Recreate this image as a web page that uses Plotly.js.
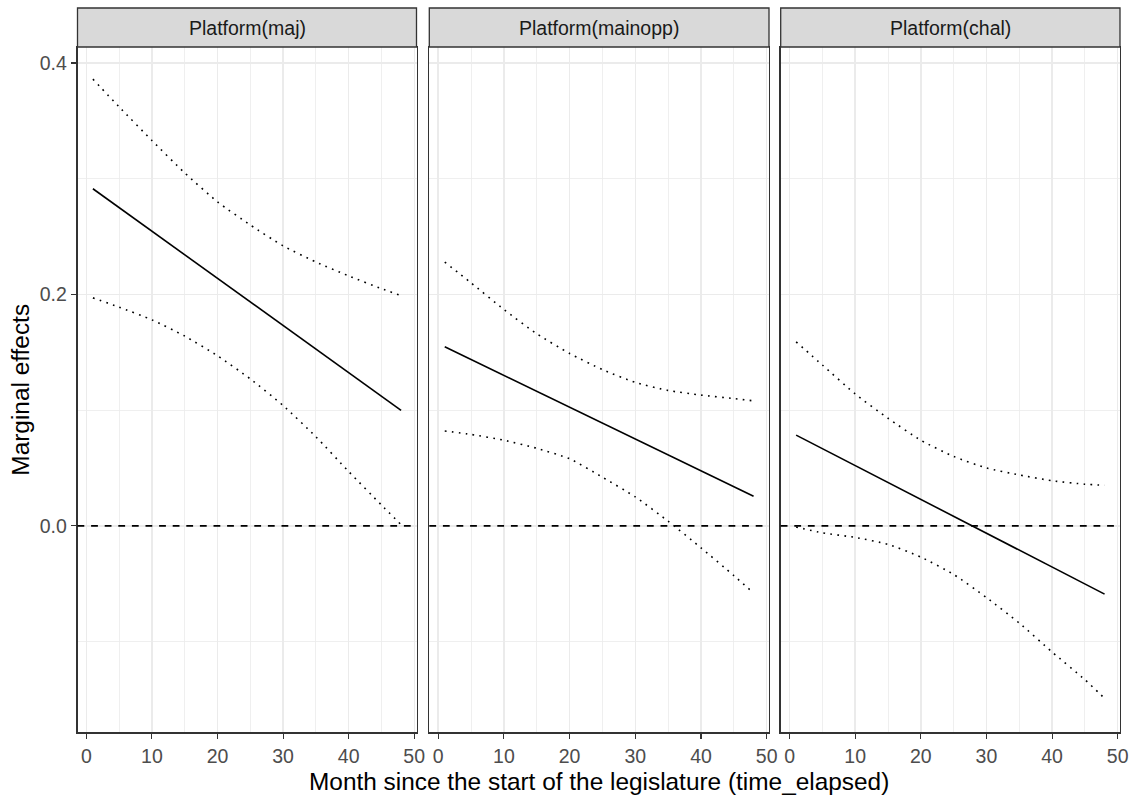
<!DOCTYPE html>
<html>
<head>
<meta charset="utf-8">
<script src="https://cdn.plot.ly/plotly-3.0.1.min.js"></script>
<style>html,body{margin:0;padding:0;background:#fff}#chart{width:1139px;height:799px}</style>
</head>
<body>
<div id="chart"></div>
<script>
// Facet labels
const panels = ["Platform(maj)", "Platform(mainopp)", "Platform(chal)"];
// Month since start of legislature (x values read at these points)
const months = [1, 5, 10, 15, 20, 25, 30, 35, 40, 45, 48];

// Platform(maj)
const majEst   = [0.2913, 0.2750, 0.2546, 0.2343, 0.2139, 0.1935, 0.1732, 0.1528, 0.1324, 0.1121, 0.0998];
const majUpper = [0.386, 0.362, 0.333, 0.305, 0.280, 0.260, 0.242, 0.228, 0.216, 0.205, 0.199];
const majLower = [0.197, 0.189, 0.178, 0.164, 0.147, 0.127, 0.104, 0.077, 0.047, 0.018, 0.001];

// Platform(mainopp)
const oppEst   = [0.1548, 0.1438, 0.1301, 0.1163, 0.1026, 0.0888, 0.0751, 0.0613, 0.0476, 0.0338, 0.0256];
const oppUpper = [0.228, 0.210, 0.187, 0.166, 0.149, 0.135, 0.124, 0.117, 0.113, 0.110, 0.108];
const oppLower = [0.082, 0.079, 0.074, 0.067, 0.058, 0.042, 0.025, 0.004, -0.019, -0.043, -0.058];

// Platform(chal)
const chalEst   = [0.0784, 0.0667, 0.0521, 0.0375, 0.0229, 0.0083, -0.0064, -0.0210, -0.0356, -0.0502, -0.0590];
const chalUpper = [0.159, 0.139, 0.114, 0.093, 0.074, 0.060, 0.050, 0.044, 0.039, 0.036, 0.035];
const chalLower = [-0.001, -0.006, -0.010, -0.016, -0.027, -0.042, -0.062, -0.084, -0.109, -0.133, -0.149];

const FONT = "Liberation Sans, Arial, sans-serif";
const LW = 1.6;

const series = [
  [majEst, majUpper, majLower],
  [oppEst, oppUpper, oppLower],
  [chalEst, chalUpper, chalLower]
];

const traces = [];
series.forEach((s, i) => {
  const xa = i === 0 ? 'x' : 'x' + (i + 1);
  const ya = i === 0 ? 'y' : 'y' + (i + 1);
  traces.push({x: months, y: s[1], xaxis: xa, yaxis: ya, mode: 'lines', type: 'scatter',
    line: {color: '#000', width: LW, dash: '1.7px,5.3px', shape: 'spline', smoothing: 0.6}, hoverinfo: 'skip'});
  traces.push({x: months, y: s[2], xaxis: xa, yaxis: ya, mode: 'lines', type: 'scatter',
    line: {color: '#000', width: LW, dash: '1.7px,5.3px', shape: 'spline', smoothing: 0.6}, hoverinfo: 'skip'});
  traces.push({x: months, y: s[0], xaxis: xa, yaxis: ya, mode: 'lines', type: 'scatter',
    line: {color: '#000', width: LW}, hoverinfo: 'skip'});
});

const W = 1139, H = 799;
const xDomains = [[77.5 / W, 416.5 / W], [429.3 / W, 769 / W], [780.7 / W, 1120 / W]];
const yDomain = [1 - 732.3 / H, 1 - 47 / H];
const stripTop = 1 - 8 / H;

function xAxis(i) {
  return {
    domain: xDomains[i], range: [-1.35, 50.35], anchor: i === 0 ? 'y' : 'y' + (i + 1),
    tick0: 0, dtick: 10, ticks: 'outside', ticklen: 5.5, tickwidth: 1.1, tickcolor: '#333333',
    showgrid: true, gridcolor: '#EBEBEB', gridwidth: 1.4,
    minor: {tick0: 0, dtick: 5, showgrid: true, gridcolor: '#EBEBEB', gridwidth: 0.8, ticks: ''},
    showline: true, mirror: true, linecolor: '#333333', linewidth: 1.3, zeroline: false,
    tickfont: {family: FONT, size: 19.5, color: '#4D4D4D'}, fixedrange: true
  };
}
function yAxis(i) {
  return {
    domain: yDomain, range: [-0.1784, 0.4138], anchor: i === 0 ? 'x' : 'x' + (i + 1),
    tick0: 0, dtick: 0.2, tickformat: '.1f',
    ticks: i === 0 ? 'outside' : '', ticklen: 5.5, tickwidth: 1.1, tickcolor: '#333333',
    showticklabels: i === 0,
    showgrid: true, gridcolor: '#EBEBEB', gridwidth: 1.4,
    minor: {tick0: 0, dtick: 0.1, showgrid: true, gridcolor: '#EBEBEB', gridwidth: 0.8, ticks: ''},
    showline: true, mirror: true, linecolor: '#333333', linewidth: 1.3, zeroline: false,
    tickfont: {family: FONT, size: 19.5, color: '#4D4D4D'}, fixedrange: true
  };
}

const shapes = [];
const annotations = [];
panels.forEach((p, i) => {
  const xr = (i === 0 ? 'x' : 'x' + (i + 1)) + ' domain';
  const yr = i === 0 ? 'y' : 'y' + (i + 1);
  shapes.push({type: 'line', xref: xr, x0: 0, x1: 1, yref: yr, y0: 0, y1: 0,
    line: {color: '#000', width: LW, dash: '6.8px,6.8px'}});
  shapes.push({type: 'rect', xref: xr, x0: 0, x1: 1, yref: 'paper', y0: yDomain[1], y1: stripTop,
    fillcolor: '#D9D9D9', line: {color: '#333333', width: 1.3}});
  annotations.push({text: p, xref: xr, x: 0.5, yref: 'paper', y: (yDomain[1] + stripTop) / 2,
    xanchor: 'center', yanchor: 'middle', showarrow: false,
    font: {family: FONT, size: 19.5, color: '#1A1A1A'}});
});
annotations.push({text: 'Month since the start of the legislature (time_elapsed)',
  xref: 'paper', x: (xDomains[0][0] + xDomains[2][1]) / 2, yref: 'paper', y: 1 - 781 / H,
  xanchor: 'center', yanchor: 'middle', showarrow: false,
  font: {family: FONT, size: 24.4, color: '#000'}});
annotations.push({text: 'Marginal effects', textangle: -90,
  xref: 'paper', x: 21 / W, yref: 'paper', y: (yDomain[0] + yDomain[1]) / 2,
  xanchor: 'center', yanchor: 'middle', showarrow: false,
  font: {family: FONT, size: 24.4, color: '#000'}});

const layout = {
  width: W, height: H, margin: {l: 0, r: 0, t: 0, b: 0},
  paper_bgcolor: '#fff', plot_bgcolor: '#fff', showlegend: false,
  xaxis: xAxis(0), xaxis2: xAxis(1), xaxis3: xAxis(2),
  yaxis: yAxis(0), yaxis2: yAxis(1), yaxis3: yAxis(2),
  shapes: shapes, annotations: annotations
};

Plotly.newPlot('chart', traces, layout, {displayModeBar: false, staticPlot: true});
</script>
</body>
</html>
